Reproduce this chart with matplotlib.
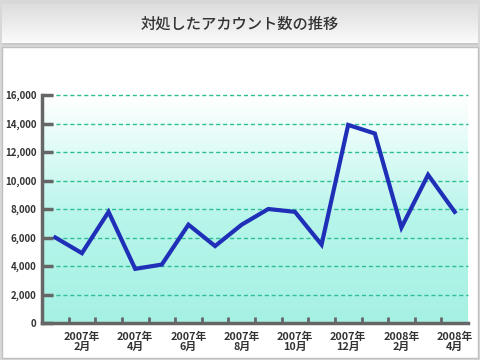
import numpy as np
import matplotlib
matplotlib.use('Agg')
import matplotlib.pyplot as plt
from matplotlib.colors import LinearSegmentedColormap
from matplotlib.patches import Rectangle

plt.rcParams['font.family'] = ['Noto Sans CJK JP', 'DejaVu Sans']

# データ（2007年1月〜2008年4月）
months = ['2007年\n1月', '2007年\n2月', '2007年\n3月', '2007年\n4月', '2007年\n5月', '2007年\n6月',
          '2007年\n7月', '2007年\n8月', '2007年\n9月', '2007年\n10月', '2007年\n11月', '2007年\n12月',
          '2008年\n1月', '2008年\n2月', '2008年\n3月', '2008年\n4月']
accounts = [6000, 4900, 7800, 3800, 4100, 6900, 5400, 6900, 8000, 7800, 5500, 13900, 13300, 6700, 10400, 7800]
yticks = [0, 2000, 4000, 6000, 8000, 10000, 12000, 14000, 16000]
title = '対処したアカウント数の推移'

W, H = 480, 360
fig = plt.figure(figsize=(W / 100, H / 100), dpi=100)
fig.patch.set_facecolor('white')

# 背景（枠とタイトルバー）
bg = fig.add_axes([0, 0, 1, 1])
bg.set_xlim(0, W)
bg.set_ylim(H, 0)
bg.axis('off')
bg.add_patch(Rectangle((0, 0), W, H, facecolor='#d8d8d8', edgecolor='none'))
bar_grad = np.linspace(0, 1, 64).reshape(-1, 1)
bar_cmap = LinearSegmentedColormap.from_list('bar', ['#dedede', '#ececec', '#fbfbfb'])
bg.imshow(bar_grad, cmap=bar_cmap, extent=(2, W - 2, 44, 4), aspect='auto', zorder=1)
bg.add_patch(Rectangle((2, 43), W - 4, 2, facecolor='#c8c8c8', edgecolor='none', zorder=2))
bg.add_patch(Rectangle((2, 47), W - 4, H - 49, facecolor='white', edgecolor='#c0c0c0', lw=1, zorder=2))
bg.text(W / 2, 24, title, ha='center', va='center', fontsize=11, fontweight='medium',
        color='#333333', zorder=3)

# グラフ本体
ax = fig.add_axes([42 / W, (H - 323) / H, (468 - 42) / W, (323 - 95) / H])
x = np.arange(len(accounts))
ax.set_xlim(-0.5, len(accounts) - 0.5)
ax.set_ylim(0, 16000)

grad = np.linspace(0, 1, 128).reshape(-1, 1)
area_cmap = LinearSegmentedColormap.from_list(
    'area', [(0, '#a6f1e3'), (0.45, '#b6f5ea'), (0.8, '#e4fcf8'), (1, '#ffffff')])
ax.imshow(grad, cmap=area_cmap, extent=(-0.5, len(accounts) - 0.5, 0, 16000),
          origin='lower', aspect='auto', zorder=0)

for v in yticks[1:]:
    ax.axhline(v, color='#2fbf95', lw=1, ls=(0, (3, 2)), zorder=1, clip_on=False)

ax.plot(x, accounts, color='#1f2fb8', lw=3, solid_joinstyle='miter', zorder=3)

for s in ['top', 'right']:
    ax.spines[s].set_visible(False)
for s in ['left', 'bottom']:
    ax.spines[s].set_color('#666666')
    ax.spines[s].set_linewidth(2.5)
    ax.spines[s].set_zorder(4)

ax.set_yticks(yticks)
ax.set_yticklabels([f'{v:,}' for v in yticks])
ax.tick_params(axis='y', direction='in', length=8, width=2.5, color='#666666',
               labelsize=7, labelcolor='#333333', pad=4)

ax.set_xticks(x[1::2])
ax.set_xticklabels(months[1::2])
ax.set_xticks(x[:-1] + 0.5, minor=True)
ax.tick_params(axis='x', which='major', length=0, labelsize=7.8, labelcolor='#333333', pad=6)
ax.tick_params(axis='x', which='minor', direction='in', length=4, width=2, color='#666666')
for lab in ax.get_xticklabels() + ax.get_yticklabels():
    lab.set_fontweight('bold')
    lab.set_linespacing(1.0)

fig.savefig('out.png', dpi=100)
